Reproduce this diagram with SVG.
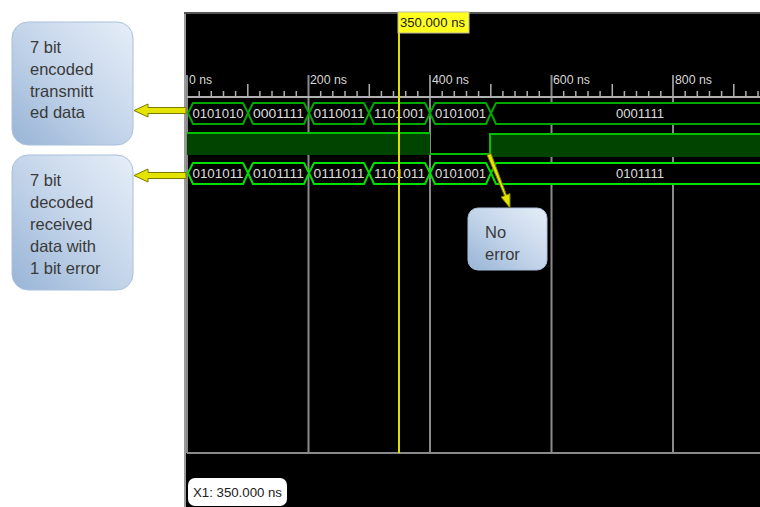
<svg xmlns="http://www.w3.org/2000/svg" width="760" height="507" viewBox="0 0 760 507">
<defs>
<linearGradient id="boxg" x1="1" y1="0" x2="0" y2="1">
<stop offset="0" stop-color="#e6eef8"/>
<stop offset="0.5" stop-color="#c4d5ea"/>
<stop offset="1" stop-color="#98b4d6"/>
</linearGradient>
<style>
.box{fill:url(#boxg);stroke:#a9c0dc;stroke-width:1}
.btxt{font-family:"Liberation Sans",Arial,sans-serif;font-size:16.5px;fill:#3a3a3a}
.grid{stroke:#8a8a8a;stroke-width:2}
.tick{stroke:#b0b0b0;stroke-width:1.5}
.axlbl{font-family:"Liberation Sans",Arial,sans-serif;font-size:12px;fill:#d8d8d8}
.bus1{fill:#000;stroke:#00a800;stroke-width:2;stroke-linejoin:round}
.bus3{fill:#000;stroke:#00e000;stroke-width:2;stroke-linejoin:round}
.val{font-family:"Liberation Sans",Arial,sans-serif;font-size:12.5px;fill:#dedede;text-anchor:middle}
.arr{fill:#e4e400;stroke:#7a7a00;stroke-width:1}
</style>
</defs>
<rect x="0" y="0" width="760" height="507" fill="#fff"/>
<g id="waveform">
<rect x="184" y="12" width="576" height="495" fill="#000"/>
<line x1="185" y1="12" x2="185" y2="507" stroke="#9a9a9a" stroke-width="2"/>
<line x1="184" y1="13" x2="760" y2="13" stroke="#555" stroke-width="2"/>
<g id="grid">
<line class="grid" x1="187" y1="75" x2="187" y2="453"/>
<line class="grid" x1="308.5" y1="75" x2="308.5" y2="453"/>
<line class="grid" x1="430" y1="75" x2="430" y2="453"/>
<line class="grid" x1="551.5" y1="75" x2="551.5" y2="453"/>
<line class="grid" x1="673" y1="75" x2="673" y2="453"/>
<line x1="187" y1="453" x2="760" y2="453" stroke="#8a8a8a" stroke-width="2"/>
<line x1="187" y1="97" x2="760" y2="97" stroke="#b0b0b0" stroke-width="2"/>
<text class="axlbl" x="189" y="84" textLength="23" lengthAdjust="spacingAndGlyphs">0 ns</text>
<text class="axlbl" x="310" y="84" textLength="37" lengthAdjust="spacingAndGlyphs">200 ns</text>
<text class="axlbl" x="432" y="84" textLength="37" lengthAdjust="spacingAndGlyphs">400 ns</text>
<text class="axlbl" x="553" y="84" textLength="37" lengthAdjust="spacingAndGlyphs">600 ns</text>
<text class="axlbl" x="675" y="84" textLength="37" lengthAdjust="spacingAndGlyphs">800 ns</text>
<path class="tick" d="M199.2 91V97M211.3 91V97M223.5 91V97M235.6 91V97M247.8 84V97M259.9 91V97M272.0 91V97M284.2 91V97M296.3 91V97M320.7 91V97M332.8 91V97M345.0 91V97M357.1 91V97M369.3 84V97M381.4 91V97M393.5 91V97M405.7 91V97M417.8 91V97M442.2 91V97M454.3 91V97M466.5 91V97M478.6 91V97M490.8 84V97M502.9 91V97M515.0 91V97M527.2 91V97M539.3 91V97M563.7 91V97M575.8 91V97M588.0 91V97M600.1 91V97M612.3 84V97M624.4 91V97M636.5 91V97M648.7 91V97M660.8 91V97M685.2 91V97M697.3 91V97M709.5 91V97M721.6 91V97M733.8 84V97M745.9 91V97M758.0 91V97"/>
</g>
<g id="tx-data">
<polygon class="bus1" points="188,113 193,103 243,103 248,113 243,124 193,124"/>
<polygon class="bus1" points="248,113 253,103 304,103 309,113 304,124 253,124"/>
<polygon class="bus1" points="309,113 314,103 364,103 369,113 364,124 314,124"/>
<polygon class="bus1" points="369,113 374,103 425,103 430,113 425,124 374,124"/>
<polygon class="bus1" points="430,113 435,103 486,103 491,113 486,124 435,124"/>
<polygon class="bus1" points="491,113 496,103 770,103 770,124 496,124"/>
<text class="val" x="218" y="118" textLength="51" lengthAdjust="spacingAndGlyphs">0101010</text>
<text class="val" x="278.5" y="118" textLength="51" lengthAdjust="spacingAndGlyphs">0001111</text>
<text class="val" x="339" y="118" textLength="51" lengthAdjust="spacingAndGlyphs">0110011</text>
<text class="val" x="399.5" y="118" textLength="51" lengthAdjust="spacingAndGlyphs">1101001</text>
<text class="val" x="460.5" y="118" textLength="51" lengthAdjust="spacingAndGlyphs">0101001</text>
<text class="val" x="640" y="118" textLength="48" lengthAdjust="spacingAndGlyphs">0001111</text>
</g>
<g id="error-bit">
<rect x="187" y="133" width="243" height="22" fill="#004400"/>
<line x1="187" y1="133" x2="430" y2="133" stroke="#00c000" stroke-width="2"/>
<line x1="430" y1="154" x2="490" y2="154" stroke="#00c000" stroke-width="2"/>
<rect x="490" y="133" width="270" height="24" fill="#004400"/>
<polyline points="490,154 490,134 760,134" fill="none" stroke="#00c000" stroke-width="2"/>
</g>
<g id="rx-data">
<polygon class="bus3" points="188,173 193,163 243,163 248,173 243,184 193,184"/>
<polygon class="bus3" points="248,173 253,163 304,163 309,173 304,184 253,184"/>
<polygon class="bus3" points="309,173 314,163 364,163 369,173 364,184 314,184"/>
<polygon class="bus3" points="369,173 374,163 425,163 430,173 425,184 374,184"/>
<polygon class="bus3" points="430,173 435,163 486,163 491,173 486,184 435,184"/>
<polygon class="bus3" points="491,173 496,163 770,163 770,184 496,184"/>
<text class="val" x="218" y="178" textLength="51" lengthAdjust="spacingAndGlyphs">0101011</text>
<text class="val" x="278.5" y="178" textLength="51" lengthAdjust="spacingAndGlyphs">0101111</text>
<text class="val" x="339" y="178" textLength="51" lengthAdjust="spacingAndGlyphs">0111011</text>
<text class="val" x="399.5" y="178" textLength="51" lengthAdjust="spacingAndGlyphs">1101011</text>
<text class="val" x="460.5" y="178" textLength="51" lengthAdjust="spacingAndGlyphs">0101001</text>
<text class="val" x="640" y="178" textLength="48" lengthAdjust="spacingAndGlyphs">0101111</text>
</g>
<g id="cursor">
<line x1="399" y1="33" x2="399" y2="453" stroke="#e0e000" stroke-width="2"/>
<rect x="398" y="12" width="71" height="21" fill="#ffff20" stroke="#bdbd9a" stroke-width="1"/>
<text x="400" y="27" font-family="'Liberation Sans',Arial,sans-serif" font-size="12.5" fill="#222" textLength="65" lengthAdjust="spacingAndGlyphs">350.000 ns</text>
</g>
<g id="cursor-readout">
<rect x="188" y="478" width="99" height="28" rx="7" fill="#fff"/>
<text x="193" y="497" font-family="'Liberation Sans',Arial,sans-serif" font-size="12.5" fill="#222" textLength="89" lengthAdjust="spacingAndGlyphs">X1: 350.000 ns</text>
</g>
</g>
<g id="box-tx">
<rect class="box" x="12" y="22" width="121" height="123" rx="16"/>
<text class="btxt" x="30" y="53">7 bit</text>
<text class="btxt" x="30" y="75">encoded</text>
<text class="btxt" x="30" y="97">transmitt</text>
<text class="btxt" x="30" y="118">ed data</text>
</g>
<g id="box-rx">
<rect class="box" x="12" y="155" width="121" height="135" rx="16"/>
<text class="btxt" x="30" y="186">7 bit</text>
<text class="btxt" x="30" y="208">decoded</text>
<text class="btxt" x="30" y="230">received</text>
<text class="btxt" x="30" y="252">data with</text>
<text class="btxt" x="30" y="274">1 bit error</text>
</g>
<g id="box-noerror">
<rect class="box" x="468" y="208" width="79" height="62" rx="10"/>
<text class="btxt" x="485" y="238">No</text>
<text class="btxt" x="485" y="260">error</text>
</g>
<g id="connectors">
<polygon class="arr" points="186,107.5 148,107.5 148,104 134,110.5 148,117 148,113.5 186,113.5"/>
<polygon class="arr" points="186,172.5 148,172.5 148,169 134,175.5 148,182 148,178.5 186,178.5"/>
<polygon class="arr" points="487,155 491,153.5 506.5,195 510,193.5 510,208 501,197 504.5,195.8"/>
</g>
</svg>
